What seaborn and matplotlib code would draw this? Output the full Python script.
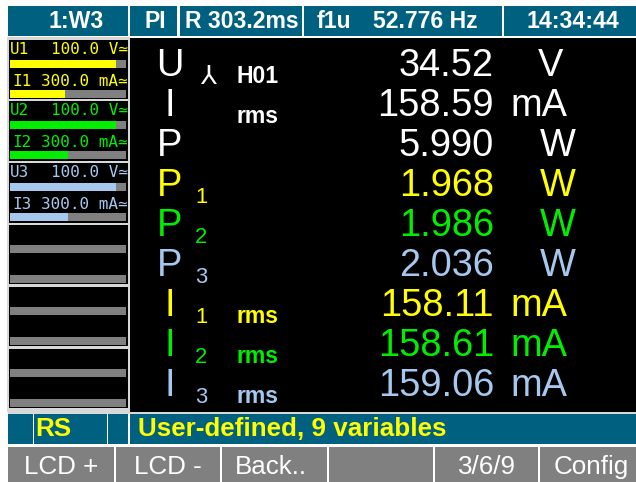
import numpy as np
import pandas as pd
import seaborn as sns
import matplotlib.pyplot as plt

# header, status line and soft keys
header_text = ["1:W3", "PI", "R 303.2ms", "f1u", "52.776 Hz", "14:34:44"]
status_text = ["RS", "User-defined, 9 variables"]
softkeys = ["LCD +", "LCD -", "Back..", "", "3/6/9", "Config"]

# range panels on the left
channels = ["1", "2", "3"]
u_ranges = ["100.0 V\u2243", "100.0 V\u2243", "100.0 V\u2243"]
i_ranges = ["300.0 mA\u2243", "300.0 mA\u2243", "300.0 mA\u2243"]
u_levels = [0.91, 0.91, 0.91]
i_levels = [0.47, 0.50, 0.50]

# measured values
symbols = ["U", "I", "P", "P", "P", "P", "I", "I", "I"]
subscripts = ["", "", "", "1", "2", "3", "1", "2", "3"]
tags = ["H01", "rms", "", "", "", "", "rms", "rms", "rms"]
values = ["34.52", "158.59", "5.990", "1.968", "1.986", "2.036", "158.11", "158.61", "159.06"]
units = ["V", "mA", "W", "W", "W", "W", "mA", "mA", "mA"]
phase = [0, 0, 0, 1, 2, 3, 1, 2, 3]

sns.set_theme(style="white")

BLUE = "#00607f"
GREY = "#808080"
LINE = "#d8d8d8"
colors = ["white", "#ffff00", "#00ee00", "#a6c8ee"]
PT = 0.72  # points per pixel at dpi 100
SANS = ["Liberation Sans", "DejaVu Sans"]
MONO = ["DejaVu Sans Mono", "DejaVu Sans"]

fig = plt.figure(figsize=(6.36, 4.82), dpi=100, facecolor="white")
ax = fig.add_axes([0, 0, 1, 1])
ax.set_xlim(0, 636)
ax.set_ylim(482, 0)
ax.axis("off")


def box(x0, x1, y0, y1, color):
    ax.barh((y0 + y1) / 2, x1 - x0, height=y1 - y0, left=x0, color=color, linewidth=0)


# header bar
for x0, x1 in [(8, 128), (130, 177), (180, 302), (304, 502), (504, 636)]:
    box(x0, x1, 6, 36, BLUE)
hdr_pos = [(76, "center"), (155, "center"), (185, "left"), (317, "left"), (373, "left"), (573, "center")]
for txt, (x, ha) in zip(header_text, hdr_pos):
    ax.text(x, 28, txt, color="white", ha=ha, va="baseline", fontsize=23 * PT,
            fontweight="bold", family=SANS)

# left column and main area
box(7, 130, 37, 412, LINE)
box(130, 636, 38, 412, "black")
for k in range(6):
    top = 39.5 + 61.8 * k
    box(8.5, 127.5, top, top + 59.5, "black")
    box(10, 126, top + 20, top + 28, GREY)
    box(10, 126, top + 50, top + 58, GREY)
    if k < len(channels):
        c = colors[k + 1]
        box(10, 10 + 116 * u_levels[k], top + 20, top + 28, c)
        box(10, 10 + 116 * i_levels[k], top + 50, top + 58, c)
        ax.text(10, top + 14, "U" + channels[k], color=c, ha="left", va="baseline",
                fontsize=16 * PT, family=MONO)
        ax.text(128, top + 14, u_ranges[k], color=c, ha="right", va="baseline",
                fontsize=16 * PT, family=MONO)
        ax.text(12, top + 46, "I" + channels[k], color=c, ha="left", va="baseline",
                fontsize=16 * PT, family=MONO)
        ax.text(128, top + 46, i_ranges[k], color=c, ha="right", va="baseline",
                fontsize=16 * PT, family=MONO)

# measurement rows
unit_x = {"V": 538, "W": 540, "mA": 510}
for i in range(len(values)):
    yc = 62 + 40 * i
    c = colors[phase[i]]
    ax.text(170, yc + 14, symbols[i], color=c, ha="center", va="baseline",
            fontsize=38 * PT, family=SANS)
    if subscripts[i]:
        ax.text(195, yc + 21, subscripts[i], color=c, ha="left", va="baseline",
                fontsize=22 * PT, family=SANS)
    if tags[i]:
        ax.text(237, yc + 21, tags[i], color=c, ha="left", va="baseline",
                fontsize=23 * PT, fontweight="bold", family=SANS)
    ax.text(494, yc + 13.5, values[i], color=c, ha="right", va="baseline",
            fontsize=38 * PT, family=SANS)
    ax.text(unit_x[units[i]], yc + 13.5, units[i], color=c, ha="left", va="baseline",
            fontsize=38 * PT, family=SANS)
ax.text(208, 84, "\u2144", color="white", ha="center", va="baseline",
        fontsize=26 * PT, family=["DejaVu Sans"])

# status line
box(8, 636, 412, 414, LINE)
for x0, x1 in [(8, 33), (34, 107), (108, 128), (130, 636)]:
    box(x0, x1, 414, 444, BLUE)
ax.text(35, 436, status_text[0], color="#ffff00", ha="left", va="baseline",
        fontsize=26 * PT, fontweight="bold", family=SANS)
ax.text(138, 436, status_text[1], color="#ffff00", ha="left", va="baseline",
        fontsize=26 * PT, fontweight="bold", family=SANS)

# soft keys
key_bounds = [(8, 114), (116, 220), (222, 327), (329, 433), (435, 538), (540, 636)]
key_pos = [(61, "center"), (168, "center"), (235, "left"), (381, "center"), (487, "center"), (554, "left")]
for (x0, x1), (x, ha), txt in zip(key_bounds, key_pos, softkeys):
    box(x0, x1, 447, 482, GREY)
    ax.text(x, 474, txt, color="white", ha=ha, va="baseline", fontsize=26 * PT, family=SANS)

fig.savefig("out.png", dpi=100, facecolor="white")
